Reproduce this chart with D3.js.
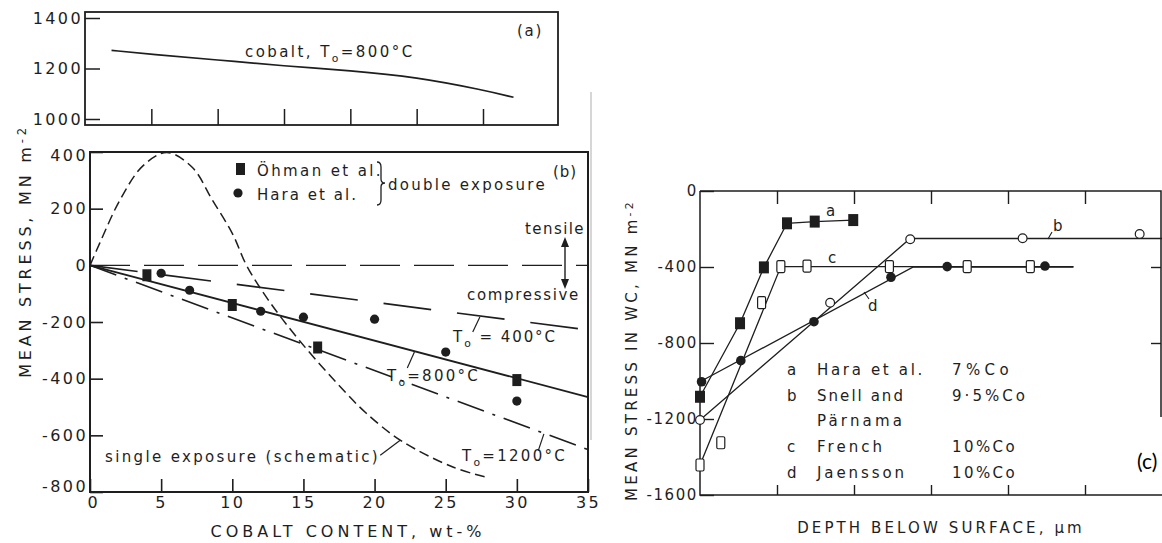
<!DOCTYPE html>
<html>
<head>
<meta charset="utf-8">
<script src="https://cdn.jsdelivr.net/npm/d3@7"></script>
<style>
body { margin: 0; background: #fff; }
svg text { font-family: "DejaVu Sans", sans-serif; fill: #1e1e1e; }
</style>
</head>
<body>
<div id="image"></div>
<script>
var ink = "#1e1e1e";

// (a) contrainte dans le cobalt, T0 = 800°C
var coA = [2, 5, 10, 15, 20, 25, 30, 32.3];
var stressA = [1272, 1256, 1234, 1210, 1192, 1166, 1115, 1086];

// (b) points mesurés (double exposition)
var ohmanCo = [4, 10, 16, 30];
var ohmanStress = [-35, -140, -290, -405];
var haraCo = [5, 7, 12, 15, 20, 25, 30];
var haraStress = [-28, -88, -162, -183, -190, -306, -479];

// (b) droites calculées pour différentes T0
var lineCo = [0, 35];
var zeroStress = [0, 0];
var t400Stress = [0, -228];
var t800Stress = [0, -465];
var t1200Stress = [0, -650];

// (b) simple exposition (schématique)
var singleCo = [0, 0.7, 2.1, 3.7, 5.4, 7.2, 8.6, 10, 11, 12.5, 14.7, 18, 19.4, 21.8, 25.5, 27.8];
var singleStress = [0, 80, 230, 350, 398, 345, 230, 113, 0, -120, -264, -451, -521, -617, -712, -747];

// (b) graduations
var yTicksB = [400, 200, 0, -200, -400, -600, -800];
var xTicksB = [0, 5, 10, 15, 20, 25, 30, 35];
var yTicksA = [1400, 1200, 1000];

// (c) profils de contrainte en profondeur
var aDepth = [0, 5.2, 8.3, 11.3, 14.9, 19.9];
var aStress = [-1083, -696, -402, -170, -161, -153];
var bDepth = [0, 16.9, 27.3, 41.9, 57.1];
var bStress = [-1205, -588, -254, -249, -226];
var bLineDepth = [0, 27.3, 60];
var bLineStress = [-1205, -250, -250];
var cDepth = [0, 2.7, 8, 10.5, 13.9, 24.6, 34.7, 42.9];
var cStress = [-1442, -1325, -588, -398, -395, -398, -398, -398];
var cLineDepth = [0, 10.5, 48.5];
var cLineStress = [-1442, -398, -398];
var dDepth = [0.2, 5.3, 14.8, 24.8, 32.1, 44.8];
var dStress = [-1004, -893, -688, -454, -398, -395];
var dLineDepth = [0, 27.7, 48.5];
var dLineStress = [-1004, -400, -400];
var yTicksC = [0, -400, -800, -1200, -1600];
var xTicksC = [10, 20, 30, 40, 50];

// légende (c)
var legKeys = ["a", "b", "", "c", "d"];
var legNames = ["Hara et al.", "Snell and", "Pärnama", "French", "Jaensson"];
var legCo = ["7%Co", "9·5%Co", "", "10%Co", "10%Co"];

function zip(xs, ys) { return xs.map(function(v, i) { return [v, ys[i]]; }); }

var svg = d3.select("#image").append("svg").attr("width", 1162).attr("height", 543);

// ajuste l'espacement des lettres pour tenir dans une largeur donnée
function fit(sel, width) {
    sel.each(function() {
        var t = d3.select(this);
        t.style("letter-spacing", "0px");
        var len = this.getComputedTextLength();
        var n = this.textContent.length;
        t.style("letter-spacing", ((width - len) / n) + "px");
    });
}

// texte avec indices / exposants : parts = chaînes ou [chaîne, 1 (indice) | -1 (exposant)]
function txt(g, x, y, parts, size, width, anchor) {
    var t = g.append("text").attr("x", x).attr("y", y)
        .style("font-size", size + "px")
        .attr("text-anchor", anchor || "start");
    var prev = 0;
    parts.forEach(function(p) {
        var s = (typeof p === "string") ? [p, 0] : p;
        var shift = s[1] * size * 0.3;
        var ts = t.append("tspan").attr("dy", shift - prev).text(s[0]);
        if (s[1] != 0) ts.style("font-size", (size * 0.72) + "px");
        prev = shift;
    });
    if (width) fit(t, width);
    return t;
}

function styleAxis(g, w) {
    g.selectAll(".domain").remove();
    g.selectAll(".tick line").attr("stroke", ink).attr("stroke-width", w);
    g.selectAll(".tick text").style("font-size", "16px").style("letter-spacing", "2.4px")
        .attr("font-family", null);
}

//////////////////// panneau (a)
var xa = d3.scaleLinear().domain([0, 30]).range([85, 483]);
var ya = d3.scaleLinear().domain([1000, 1400]).range([119, 18]);

var ga = svg.append("g");
ga.append("g").attr("transform", "translate(85,0)")
    .call(d3.axisLeft(ya).tickValues(yTicksA).tickSize(-15).tickPadding(2).tickFormat(function(d) { return String(d); }))
    .call(styleAxis, 1.5);
ga.append("g").attr("transform", "translate(0,125)")
    .call(d3.axisBottom(xa).tickValues([5, 10, 15, 20, 25, 30]).tickSize(-16).tickFormat(""))
    .call(styleAxis, 1.5);
ga.append("rect").attr("x", 85).attr("y", 12).attr("width", 473).attr("height", 113)
    .attr("fill", "none").attr("stroke", ink).attr("stroke-width", 1.8);

ga.append("path").datum(zip(coA, stressA))
    .attr("fill", "none").attr("stroke", ink).attr("stroke-width", 1.7)
    .attr("d", d3.line().x(function(d) { return xa(d[0]); }).y(function(d) { return ya(d[1]); }).curve(d3.curveBasis));

txt(ga, 245, 57, ["cobalt,  T", ["o", 1], "=800°C"], 15, 172);
txt(ga, 517, 36, ["(a)"], 15, 26);

//////////////////// panneau (b)
var xb = d3.scaleLinear().domain([0, 35]).range([90, 588]);
var yb = d3.scaleLinear().domain([-800, 400]).range([492, 152]);
var lineB = d3.line().x(function(d) { return xb(d[0]); }).y(function(d) { return yb(d[1]); });

var gb = svg.append("g");
gb.append("g").attr("transform", "translate(90,0)")
    .call(d3.axisLeft(yb).tickValues(yTicksB).tickSize(-13).tickPadding(2).tickFormat(function(d) { return String(d); }))
    .call(styleAxis, 1.6)
    .selectAll(".tick text").attr("dy", function(d) { return d == -800 ? "-0.05em" : (d == 400 ? "0.55em" : "0.32em"); });
gb.append("g").attr("transform", "translate(0,492)")
    .call(d3.axisBottom(xb).tickValues(xTicksB).tickSize(-13).tickPadding(5).tickFormat(function(d) { return String(d); }))
    .call(styleAxis, 1.6)
    .selectAll(".tick text").attr("dx", function(d) { return d == 0 ? "0.2em" : 0; });
gb.append("rect").attr("x", 90).attr("y", 152).attr("width", 498).attr("height", 340)
    .attr("fill", "none").attr("stroke", ink).attr("stroke-width", 2);

// droites et courbe
var series = [
    {ys: zeroStress, dash: "40,14", w: 1.3},
    {ys: t400Stress, dash: "48,26", w: 1.6},
    {ys: t800Stress, dash: null, w: 1.8},
    {ys: t1200Stress, dash: "28,9,3,9", w: 1.6}
];
series.forEach(function(s) {
    gb.append("path").datum(zip(lineCo, s.ys))
        .attr("fill", "none").attr("stroke", ink).attr("stroke-width", s.w)
        .attr("stroke-dasharray", s.dash).attr("d", lineB);
});
gb.append("path").datum(zip(singleCo, singleStress))
    .attr("fill", "none").attr("stroke", ink).attr("stroke-width", 1.5)
    .attr("stroke-dasharray", "10,5")
    .attr("d", lineB.curve(d3.curveCatmullRom));
lineB.curve(d3.curveLinear);

// points
gb.selectAll(".ohman").data(zip(ohmanCo, ohmanStress)).enter().append("rect")
    .attr("x", function(d) { return xb(d[0]) - 4.5; })
    .attr("y", function(d) { return yb(d[1]) - 6; })
    .attr("width", 9).attr("height", 12).attr("fill", ink);
gb.selectAll(".hara").data(zip(haraCo, haraStress)).enter().append("circle")
    .attr("cx", function(d) { return xb(d[0]); })
    .attr("cy", function(d) { return yb(d[1]); })
    .attr("r", 4.6).attr("fill", ink);

// légende (b)
gb.append("rect").attr("x", 236).attr("y", 163).attr("width", 9).attr("height", 12).attr("fill", ink);
gb.append("circle").attr("cx", 238).attr("cy", 193).attr("r", 4.6).attr("fill", ink);
txt(gb, 257, 176, ["Öhman et al."], 15, 126);
txt(gb, 257, 200, ["Hara et al."], 15, 101);
gb.append("path").attr("fill", "none").attr("stroke", ink).attr("stroke-width", 1.3)
    .attr("d", "M377,162 Q381,162 381,167 L381,179 Q381,183 385,183 Q381,183 381,187 L381,200 Q381,205 377,205");
txt(gb, 388, 190, ["double exposure"], 15, 159);
txt(gb, 553, 177, ["(b)"], 15, 24);

// traction / compression
txt(gb, 525, 234, ["tensile"], 15, 60);
txt(gb, 467, 300, ["compressive"], 15, 113);
gb.append("line").attr("x1", 565).attr("x2", 565).attr("y1", 242).attr("y2", 284)
    .attr("stroke", ink).attr("stroke-width", 1.4);
gb.append("path").attr("fill", ink).attr("d", "M565,237 L561,247 L569,247 Z M565,289 L561,279 L569,279 Z");

// étiquettes des droites
var leaders = [
    [[27.4, -182], [26.9, -235]],
    [[22.8, -306], [22.3, -362]],
    [[31.9, -595], [31.5, -655]],
    [[21.8, -617], [20.4, -670]]
];
leaders.forEach(function(l) {
    gb.append("path").datum(l).attr("fill", "none").attr("stroke", ink).attr("stroke-width", 1.2).attr("d", lineB);
});
txt(gb, 453, 342, ["T", ["o", 1], " = 400°C"], 15, 104);
txt(gb, 387, 381, ["T", ["o", 1], "=800°C"], 15, 93);
txt(gb, 462, 461, ["T", ["o", 1], "=1200°C"], 15, 105);
txt(gb, 105, 462, ["single exposure (schematic)"], 15, 275);

// titres des axes
var ylab = svg.append("g").attr("transform", "translate(31,251) rotate(-90)");
txt(ylab, 0, 0, ["MEAN  STRESS,   MN m", ["-2", -1]], 16, 265, "middle");
txt(svg, 348, 537, ["COBALT  CONTENT,  wt-%"], 16, 283, "middle");

//////////////////// panneau (c)
var xc = d3.scaleLinear().domain([0, 60]).range([700, 1162]);
var yc = d3.scaleLinear().domain([-1600, 0]).range([495, 191]);
var lineC = d3.line().x(function(d) { return xc(d[0]); }).y(function(d) { return yc(d[1]); });

var gc = svg.append("g");
gc.append("line").attr("x1", 591).attr("x2", 591).attr("y1", 92).attr("y2", 440)
    .attr("stroke", "#c8c8c8").attr("stroke-width", 1.5);

gc.append("g").attr("transform", "translate(700,0)")
    .call(d3.axisLeft(yc).tickValues(yTicksC).tickSize(-14).tickPadding(2).tickFormat(function(d) { return String(d); }))
    .call(styleAxis, 1.4);
gc.selectAll("text").style("font-size", "15px").style("letter-spacing", "1.6px");
gc.append("g").attr("transform", "translate(0,191)")
    .call(d3.axisTop(xc).tickValues(xTicksC).tickSize(-13).tickFormat(""))
    .call(styleAxis, 1.4);
gc.append("g").attr("transform", "translate(0,495)")
    .call(d3.axisBottom(xc).tickValues(xTicksC).tickSize(-10).tickFormat(""))
    .call(styleAxis, 1.4);
gc.append("g").attr("transform", "translate(1161,0)")
    .call(d3.axisRight(yc).tickValues([-400, -800]).tickSize(-10).tickFormat(""))
    .call(styleAxis, 1.4);
gc.append("path").attr("fill", "none").attr("stroke", ink).attr("stroke-width", 1.5)
    .attr("d", "M700,191 L1161,191 L1161,417 M700,191 L700,495 L1162,495");

// droites des profils
[zip(aDepth, aStress), zip(bLineDepth, bLineStress), zip(cLineDepth, cLineStress), zip(dLineDepth, dLineStress)]
    .forEach(function(l) {
        gc.append("path").datum(l).attr("fill", "none").attr("stroke", ink).attr("stroke-width", 1.3).attr("d", lineC);
    });

// marqueurs
gc.selectAll(".ma").data(zip(aDepth, aStress)).enter().append("rect")
    .attr("x", function(d) { return xc(d[0]) - 5; })
    .attr("y", function(d) { return yc(d[1]) - 6; })
    .attr("width", 10).attr("height", 12).attr("fill", ink);
gc.selectAll(".mb").data(zip(bDepth, bStress)).enter().append("circle")
    .attr("cx", function(d) { return xc(d[0]); })
    .attr("cy", function(d) { return yc(d[1]); })
    .attr("r", 4.4).attr("fill", "#fff").attr("stroke", ink).attr("stroke-width", 1.2);
gc.selectAll(".mc").data(zip(cDepth, cStress)).enter().append("rect")
    .attr("x", function(d) { return xc(d[0]) - 4; })
    .attr("y", function(d) { return yc(d[1]) - 6; })
    .attr("width", 8).attr("height", 12).attr("rx", 1.5)
    .attr("fill", "#fff").attr("stroke", ink).attr("stroke-width", 1.2);
gc.selectAll(".md").data(zip(dDepth, dStress)).enter().append("circle")
    .attr("cx", function(d) { return xc(d[0]); })
    .attr("cy", function(d) { return yc(d[1]); })
    .attr("r", 4.8).attr("fill", ink);

// lettres des courbes
txt(gc, 826, 216, ["a"], 15);
txt(gc, 1053, 231, ["b"], 15);
txt(gc, 828, 263, ["c"], 15);
txt(gc, 868, 311, ["d"], 15);
gc.append("path").attr("fill", "none").attr("stroke", ink).attr("stroke-width", 1.1)
    .attr("d", "M1048,239 L1052,232 M864,292 L869,299");

// légende (c)
legNames.forEach(function(n, i) {
    var yy = 375 + i * 25.7;
    if (legKeys[i]) txt(gc, 787, yy, [legKeys[i]], 15);
    txt(gc, 817, yy, [n], 15, [108, 88, 88, 68, 90][i]);
    if (legCo[i]) txt(gc, 952, yy, [legCo[i]], 15, [61, 76, 0, 65, 65][i]);
});

// titres des axes (c)
var ylabC = svg.append("g").attr("transform", "translate(637,350) rotate(-90)");
txt(ylabC, 0, 0, ["MEAN STRESS IN WC,  MN m", ["-2", -1]], 15, 305, "middle");
txt(svg, 941, 533, ["DEPTH  BELOW  SURFACE,  µm"], 15, 297, "middle");

svg.append("text").attr("x", 1137).attr("y", 469)
    .style("font-family", "Lato, sans-serif").style("font-size", "21px").style("fill", "#000")
    .text("(c)");
</script>
</body>
</html>
